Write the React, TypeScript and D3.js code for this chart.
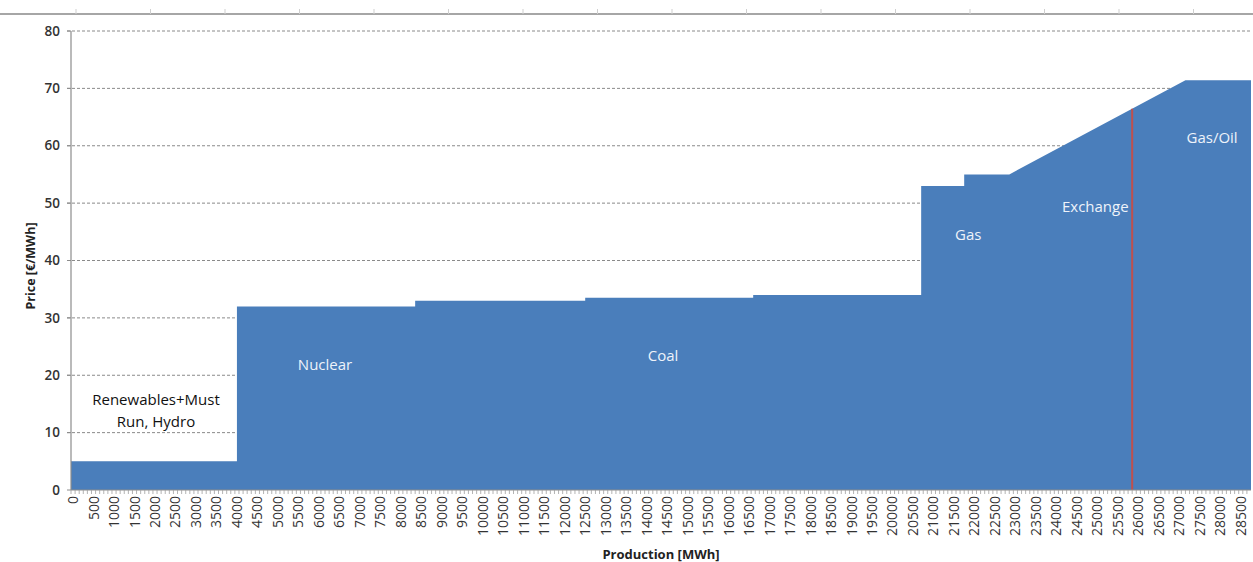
import React from "react";
import * as d3 from "d3";

// Supply curve breakpoints (cumulative production MWh, price €/MWh)
const supplyMWh = [0, 4050, 4050, 8400, 8400, 12550, 12550, 16650, 16650, 20750, 20750, 21800, 21800, 22900, 27200, 28800];
const supplyPrice = [5, 5, 32, 32, 33, 33, 33.5, 33.5, 34, 34, 53, 53, 55, 55, 71.4, 71.4];

// Demand (vertical red line)
const demandMWh = 25900;

// Axis ticks
const yTicks = [0, 10, 20, 30, 40, 50, 60, 70, 80];
const xCategories = d3.range(0, 28800, 100);
const xLabels = d3.range(0, 29000, 500);

// Technology labels
const techNames = ["Nuclear", "Coal", "Gas", "Exchange", "Gas/Oil"];
const techMWh = [6200, 14450, 21900, 25000, 27850];
const techPrice = [21, 22.5, 43.5, 48.5, 60.5];

const W = 1253;
const H = 562;
const left = 71;
const right = 1251;
const top = 31;
const bottom = 490;

export default function App() {
  const x = d3.scaleLinear().domain([0, 28800]).range([left, right]);
  const y = d3.scaleLinear().domain([0, 80]).range([bottom, top]);
  const pts = supplyMWh.map((m, i) => [m, supplyPrice[i]] as [number, number]);
  const area = d3
    .area<[number, number]>()
    .x((d) => x(d[0]))
    .y0(y(0))
    .y1((d) => y(d[1]))(pts) as string;

  // price at demand point
  let demandPrice = 0;
  for (let i = 0; i < pts.length - 1; i++) {
    const [x0, y0] = pts[i];
    const [x1, y1] = pts[i + 1];
    if (demandMWh >= x0 && demandMWh <= x1 && x1 > x0) {
      demandPrice = y0 + ((demandMWh - x0) / (x1 - x0)) * (y1 - y0);
    }
  }

  const font = "'Open Sans', 'Noto Sans', sans-serif";
  const topTicks = d3.range(76, W, 74.5);

  return (
    <svg width={W} height={H} style={{ position: "absolute", left: 0, top: 0, background: "#fff" }} fontFamily={font}>
      {/* top border line */}
      <line x1={0} x2={W} y1={14} y2={14} stroke="#a6a6a6" strokeWidth={2} />
      {topTicks.map((t) => (
        <line key={t} x1={t} x2={t} y1={9} y2={14} stroke="#cfcfcf" strokeWidth={1} />
      ))}

      {/* gridlines */}
      {yTicks.filter((t) => t > 0).map((t) => (
        <line key={t} x1={left - 4} x2={right} y1={y(t)} y2={y(t)} stroke="#8a8a8a" strokeWidth={1} strokeDasharray="3,2" />
      ))}

      {/* area */}
      <path d={area} fill="#4a7ebb" />

      {/* demand line */}
      <line x1={x(demandMWh)} x2={x(demandMWh)} y1={y(0)} y2={y(demandPrice)} stroke="#c0504d" strokeWidth={2} />

      {/* y axis */}
      <line x1={left} x2={left} y1={top} y2={bottom} stroke="#8c8c8c" strokeWidth={1.2} />
      {yTicks.map((t) => (
        <g key={t}>
          <line x1={left - 4} x2={left} y1={y(t)} y2={y(t)} stroke="#8c8c8c" />
          <text x={left - 11} y={y(t)} dy="0.35em" textAnchor="end" fontSize={13.5} fill="#333" fontWeight={600}>
            {t}
          </text>
        </g>
      ))}

      {/* x axis */}
      <line x1={left} x2={right} y1={bottom} y2={bottom} stroke="#8c8c8c" strokeWidth={1.2} />
      {xCategories.map((c) => (
        <line key={c} x1={x(c)} x2={x(c)} y1={bottom} y2={bottom + 4} stroke="#a0a0a0" strokeWidth={0.8} />
      ))}
      {xLabels.map((v) => (
        <text
          key={v}
          transform={`translate(${x(v + 50) + 5},${bottom + 6}) rotate(-90)`}
          textAnchor="end"
          fontSize={14}
          fill="#333"
        >
          {v}
        </text>
      ))}

      {/* axis titles */}
      <text x={661} y={559} textAnchor="middle" fontSize={13} fontWeight={700} fill="#222">
        Production [MWh]
      </text>
      <text transform={`translate(35,266) rotate(-90)`} textAnchor="middle" fontSize={12.5} fontWeight={700} fill="#222">
        Price [€/MWh]
      </text>

      {/* technology labels */}
      <text x={156} y={405} textAnchor="middle" fontSize={15} fill="#111">
        Renewables+Must
      </text>
      <text x={156} y={427} textAnchor="middle" fontSize={15} fill="#111">
        Run, Hydro
      </text>
      {techNames.map((n, i) => (
        <text key={n} x={x(techMWh[i])} y={y(techPrice[i])} textAnchor="middle" fontSize={15} fill="#eef3fa">
          {n}
        </text>
      ))}
    </svg>
  );
}
